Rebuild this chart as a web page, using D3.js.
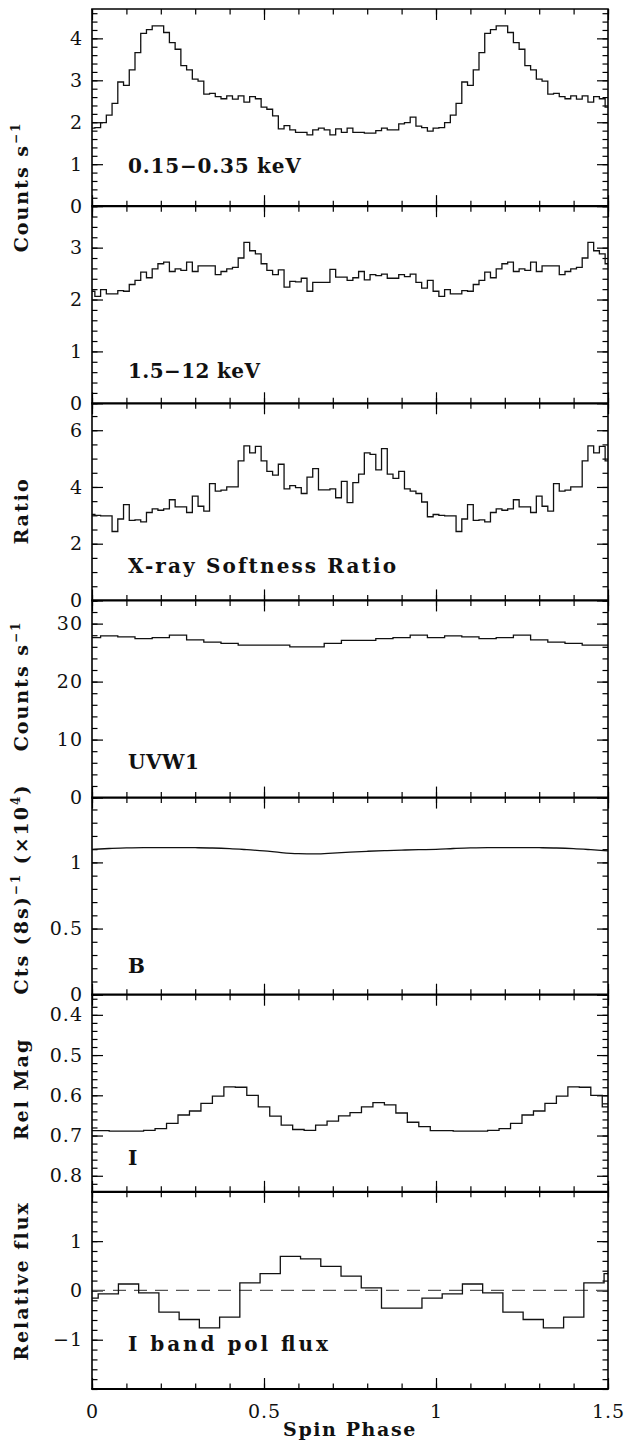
<!DOCTYPE html>
<html>
<head>
<meta charset="utf-8">
<script src="https://cdn.jsdelivr.net/npm/d3@7"></script>
<style>
  body { margin: 0; background: #fff; }
  svg { display: block; }
</style>
</head>
<body>
<svg id="chart" width="630" height="1443"></svg>
<script>
// one spin cycle per array, folded and repeated out to phase 1.5
const softCycle = [1.86, 1.87, 1.99, 2.17, 2.45, 2.96, 2.88, 3.25, 3.66, 4.12,
    4.21, 4.30, 4.30, 4.14, 3.90, 3.74, 3.35, 3.25, 3.03, 2.98,
    2.67, 2.69, 2.61, 2.56, 2.63, 2.55, 2.63, 2.48, 2.61, 2.56,
    2.36, 2.31, 2.15, 1.84, 1.92, 1.82, 1.76, 1.76, 1.70, 1.82,
    1.86, 1.82, 1.70, 1.84, 1.76, 1.86, 1.76, 1.76, 1.74, 1.74,
    1.80, 1.86, 1.82, 1.82, 1.96, 1.99, 2.12, 1.91, 1.87, 1.79];
const hardCycle = [2.16, 2.06, 2.19, 2.11, 2.11, 2.17, 2.16, 2.29, 2.37, 2.53,
    2.42, 2.59, 2.69, 2.72, 2.54, 2.59, 2.56, 2.72, 2.54, 2.65,
    2.65, 2.65, 2.48, 2.54, 2.59, 2.62, 2.80, 3.10, 2.94, 2.88,
    2.69, 2.56, 2.48, 2.57, 2.24, 2.35, 2.34, 2.41, 2.16, 2.33,
    2.33, 2.33, 2.58, 2.43, 2.43, 2.37, 2.42, 2.54, 2.38, 2.48,
    2.46, 2.49, 2.41, 2.41, 2.48, 2.44, 2.49, 2.33, 2.22, 2.37];
const ratioCycle = [3.03, 3.00, 2.98, 2.98, 2.43, 2.87, 3.38, 2.82, 2.84, 2.77,
    3.10, 3.23, 3.18, 3.23, 3.55, 3.30, 3.30, 3.10, 3.68, 3.32,
    3.15, 4.12, 3.85, 3.89, 4.00, 4.00, 4.92, 5.45, 5.20, 5.43,
    4.92, 4.55, 4.42, 4.80, 3.93, 4.05, 3.98, 3.77, 4.35, 4.65,
    3.90, 3.90, 3.93, 3.62, 4.20, 3.45, 4.15, 4.45, 5.20, 5.15,
    4.60, 5.35, 4.45, 4.30, 4.55, 3.93, 3.85, 3.77, 3.47, 2.95];
const uvw1Cycle = [27.6, 27.9, 27.7, 27.4, 27.6, 28.0, 27.2, 26.8, 26.6, 26.3,
    26.3, 26.3, 26.0, 26.0, 26.6, 27.1, 27.1, 27.4, 27.6, 28.0];
// B band is a smooth curve, sampled every 0.05 in phase
const bCycle = [1.098, 1.105, 1.110, 1.111, 1.112, 1.112, 1.111, 1.109, 1.104, 1.096,
    1.087, 1.074, 1.066, 1.064, 1.070, 1.078, 1.084, 1.089, 1.093, 1.096];
const iMagCycle = [0.688, 0.688, 0.689, 0.689, 0.689, 0.687, 0.683, 0.670, 0.649, 0.639,
    0.620, 0.602, 0.579, 0.580, 0.600, 0.629, 0.652, 0.674, 0.685, 0.687,
    0.674, 0.664, 0.651, 0.643, 0.629, 0.618, 0.624, 0.644, 0.667, 0.678];
const polCycle = [-0.155, -0.07, 0.13, -0.05, -0.44, -0.59, -0.76, -0.54, 0.155,
    0.34, 0.69, 0.64, 0.49, 0.29, 0.05, -0.36, -0.36];
const polFirstEdge = 0.018 - 1 / 17;   // polarised flux bins are not centred on 0

const softTicks = [0, 1, 2, 3, 4];
const hardTicks = [0, 1, 2, 3];
const ratioTicks = [0, 2, 4, 6];
const uvw1Ticks = [0, 10, 20, 30];
const bTicks = [0, 0.5, 1];
const iMagTicks = [0.4, 0.5, 0.6, 0.7, 0.8];
const polTicks = [-1, 0, 1];
const phaseTicks = [0, 0.5, 1, 1.5];

const panelLabels = ["0.15\u22120.35 keV", "1.5\u221212 keV", "X-ray Softness Ratio",
    "UVW1", "B", "I", "I band pol flux"];

const margin = {top: 9, left: 92, right: 22, bottom: 54};
const W = 630, H = 1443;
const width = W - margin.left - margin.right;
const plotH = H - margin.top - margin.bottom;
const panelH = plotH / 7;

const SERIF = "'DejaVu Serif', 'Liberation Serif', serif";
const CHAR_W = 13.6;   // the labels sit on a roughly fixed character pitch

// options per panel, built from the arrays above
const panels = [
    {cycle: softCycle, type: 'hist', domain: [0, 4.7], ticks: softTicks, minor: 0.2, labelY: 164},
    {cycle: hardCycle, type: 'hist', domain: [0, 3.8], ticks: hardTicks, minor: 0.2, labelY: 172},
    {cycle: ratioCycle, type: 'hist', domain: [0, 6.95], ticks: ratioTicks, minor: 0.5, labelY: 170},
    {cycle: uvw1Cycle, type: 'hist', domain: [0, 34], ticks: uvw1Ticks, minor: 2, labelY: 169},
    {cycle: bCycle, type: 'line', domain: [0, 1.49], ticks: bTicks, minor: 0.1, labelY: 175},
    {cycle: iMagCycle, type: 'hist', domain: [0.84, 0.35], ticks: iMagTicks, minor: 0.02, labelY: 170},
    {cycle: polCycle, type: 'hist', domain: [-2, 2], ticks: polTicks, minor: 0.2, labelY: 159,
        start: polFirstEdge, zeroLine: true}
];

const svg = d3.select('#chart');
const g = svg.append('g').attr('transform', `translate(${margin.left},${margin.top})`);

const x = d3.scaleLinear().domain([0, 1.5]).range([0, width]);
const minorPhase = d3.range(0, 1.5001, 0.1).map(d => +d.toFixed(2));

function binPoints(cycle, start) {
    const n = cycle.length;
    if (start === undefined) start = -0.5 / n;
    let pts = [];
    for (let j = 0; start + j / n < 1.5; j++) {
        let x0 = Math.max(0, start + j / n),
            x1 = Math.min(1.5, start + (j + 1) / n);
        if (x1 <= 0) continue;
        let v = cycle[j % n];
        pts.push([x0, v], [x1, v]);
    }
    return pts;
}

function linePoints(cycle) {
    const n = cycle.length;
    let pts = [];
    for (let j = 0; j <= n * 1.5; j++) pts.push([j / n, cycle[j % n]]);
    return pts;
}

function minorValues(domain, step) {
    let lo = Math.min(domain[0], domain[1]), hi = Math.max(domain[0], domain[1]);
    let first = Math.ceil(lo / step - 1e-6) * step;
    return d3.range(first, hi + 1e-6, step).map(d => +d.toFixed(4));
}

function styleAxis(sel) {
    sel.select('.domain').remove();
    sel.selectAll('line').attr('stroke', '#000').attr('stroke-width', 1.2);
    sel.selectAll('text').attr('font-family', SERIF).attr('font-size', 19)
        .attr('fill', '#111').attr('letter-spacing', 1);
}

panels.forEach((p, i) => {
    const top = i * panelH, bottom = top + panelH;
    const y = d3.scaleLinear().domain(p.domain).range([bottom, top]);
    const pg = g.append('g').attr('class', 'panel');

    // y ticks left and right, major + minor, pointing inward
    const yMinor = minorValues(p.domain, p.minor);
    pg.append('g').call(d3.axisLeft(y).tickValues(yMinor).tickSize(-5.5).tickFormat('')).call(styleAxis);
    pg.append('g').call(d3.axisLeft(y).tickValues(p.ticks).tickSize(-11).tickPadding(9)
        .tickFormat(d => String(d).replace('-', '\u2212'))).call(styleAxis);
    pg.append('g').attr('transform', `translate(${width},0)`)
        .call(d3.axisRight(y).tickValues(yMinor).tickSize(-5.5).tickFormat('')).call(styleAxis);
    pg.append('g').attr('transform', `translate(${width},0)`)
        .call(d3.axisRight(y).tickValues(p.ticks).tickSize(-11).tickFormat('')).call(styleAxis);

    // x ticks on top and bottom of every panel
    [[d3.axisTop, top], [d3.axisBottom, bottom]].forEach(([ax, pos]) => {
        pg.append('g').attr('transform', `translate(0,${pos})`)
            .call(ax(x).tickValues(minorPhase).tickSize(-5.5).tickFormat('')).call(styleAxis);
        let major = pg.append('g').attr('transform', `translate(0,${pos})`)
            .call(ax(x).tickValues(phaseTicks).tickSize(-11).tickPadding(11)
                .tickFormat(i === 6 && ax === d3.axisBottom ? d3.format('') : ''))
            .call(styleAxis);
        major.selectAll('text').attr('dy', '0.95em');
    });

    if (p.zeroLine) {
        pg.append('line')
            .attr('x1', 0).attr('x2', width)
            .attr('y1', y(0)).attr('y2', y(0))
            .attr('stroke', '#555').attr('stroke-width', 1.2)
            .attr('stroke-dasharray', '13,8');
    }

    const pts = p.type === 'hist' ? binPoints(p.cycle, p.start) : linePoints(p.cycle);
    const line = d3.line().x(d => x(d[0])).y(d => y(d[1]));
    if (p.type === 'line') line.curve(d3.curveMonotoneX);
    pg.append('path')
        .attr('d', line(pts))
        .attr('fill', 'none')
        .attr('stroke', '#111')
        .attr('stroke-width', 1.3);

    const label = pg.append('text')
        .attr('x', 36)
        .attr('y', top + p.labelY)
        .attr('font-family', SERIF)
        .attr('font-weight', 'bold')
        .attr('font-size', 20)
        .attr('fill', '#111')
        .text(panelLabels[i]);
    // only stretch the spacing, never squeeze it
    const target = panelLabels[i].length * CHAR_W - 4;
    if (label.node().getComputedTextLength() < target) {
        label.attr('textLength', target).attr('lengthAdjust', 'spacing');
    } else {
        label.attr('letter-spacing', 0.5);
    }
});

// frame: thick horizontal boundaries, vertical edges
d3.range(8).forEach(i => {
    g.append('line')
        .attr('x1', -0.8).attr('x2', width + 0.8)
        .attr('y1', i * panelH).attr('y2', i * panelH)
        .attr('stroke', '#000').attr('stroke-width', i === 0 ? 1.4 : 2.2);
});
[0, width].forEach(xx => {
    g.append('line')
        .attr('x1', xx).attr('x2', xx)
        .attr('y1', 0).attr('y2', plotH)
        .attr('stroke', '#000').attr('stroke-width', 1.6);
});

// y axis titles
const titles = [
    {cy: 187, parts: [['Counts s', 0], ['\u22121', 1]]},
    {cy: 511, parts: [['Ratio', 0]]},
    {cy: 686, parts: [['Counts s', 0], ['\u22121', 1]]},
    {cy: 889, parts: [['Cts (8s)', 0], ['\u22121', 1], [' (\u00d710', 0], ['4', 1], [')', 0]]},
    {cy: 1089, parts: [['Rel Mag', 0]]},
    {cy: 1281, parts: [['Relative flux', 0]]}
];
titles.forEach(t => {
    let txt = svg.append('text')
        .attr('transform', `translate(28,${t.cy}) rotate(-90)`)
        .attr('text-anchor', 'middle')
        .attr('font-family', SERIF)
        .attr('font-weight', 'bold')
        .attr('font-size', 19)
        .attr('letter-spacing', 2)
        .attr('fill', '#111');
    let raised = false;
    t.parts.forEach(([s, sup]) => {
        let span = txt.append('tspan').text(s);
        if (sup && !raised) { span.attr('dy', -8).attr('font-size', 12); raised = true; }
        else if (!sup && raised) { span.attr('dy', 8); raised = false; }
        else if (sup) span.attr('font-size', 12);
    });
});

svg.append('text')
    .attr('x', margin.left + width / 2)
    .attr('y', 1436)
    .attr('text-anchor', 'middle')
    .attr('font-family', SERIF)
    .attr('font-weight', 'bold')
    .attr('font-size', 19)
    .attr('letter-spacing', 1.6)
    .attr('fill', '#111')
    .text('Spin Phase');
</script>
</body>
</html>
